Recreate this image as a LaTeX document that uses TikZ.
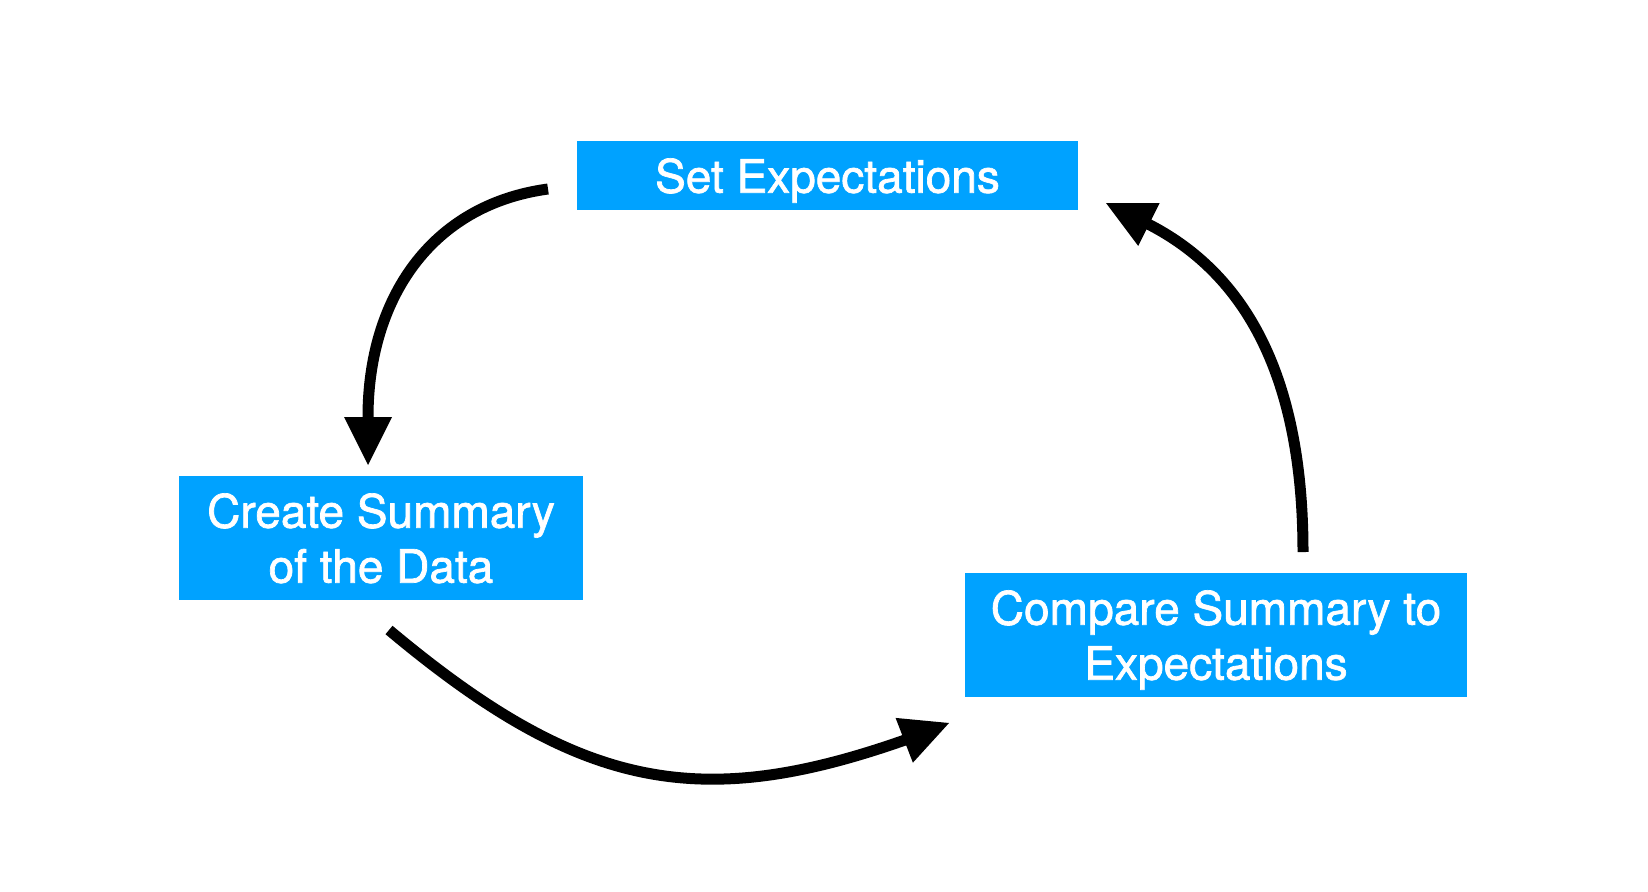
\documentclass[tikz,border=0pt]{standalone}
\usepackage{fontspec}
\setmainfont{TeX Gyre Heros}
\newfontfamily\boxfont{TeX Gyre Heros}[FakeBold=1.5]
\usetikzlibrary{arrows.meta}
\definecolor{boxblue}{RGB}{0,162,255}
\begin{document}
\begin{tikzpicture}[x=1pt,y=-1pt,
  stepbox/.style={fill=boxblue,text=white,inner sep=0pt,align=center,text depth=0pt,
    font=\boxfont\fontsize{46}{55}\selectfont},
  flow/.style={line width=11pt,line cap=butt,
    -{Triangle[length=48pt,width=48pt,line width=0pt]}}]
\useasboundingbox (0,0) rectangle (1648,891);
\node[stepbox,minimum width=501pt,minimum height=69pt] (se) at (827.5,175.5) {Set Expectations};
\node[stepbox,minimum width=404pt,minimum height=124pt] (cs) at (381,538) {Create Summary\\of the Data};
\node[stepbox,minimum width=502pt,minimum height=124pt] (cmp) at (1216,635) {Compare Summary to\\Expectations};
% arrow 1
\coordinate (a1s) at (548,189);
\coordinate (a1b) at (368,417);
\coordinate (a1t) at (368,465);
\draw[flow] (a1s) .. controls (430,205) and (368,300) .. (a1b) -- (a1t);
% arrow 2
\coordinate (a2s) at (389,630);
\coordinate (a2b) at (905,740);
\coordinate (a2t) at (949,723);
\draw[flow] (a2s) .. controls (580,790) and (700,812) .. (a2b) -- (a2t);
% arrow 3
\coordinate (a3s) at (1303,552);
\coordinate (a3b) at (1148,224);
\coordinate (a3t) at (1106,203);
\draw[flow] (a3s) .. controls (1303,377) and (1246,274) .. (a3b) -- (a3t);
\end{tikzpicture}
\end{document}
